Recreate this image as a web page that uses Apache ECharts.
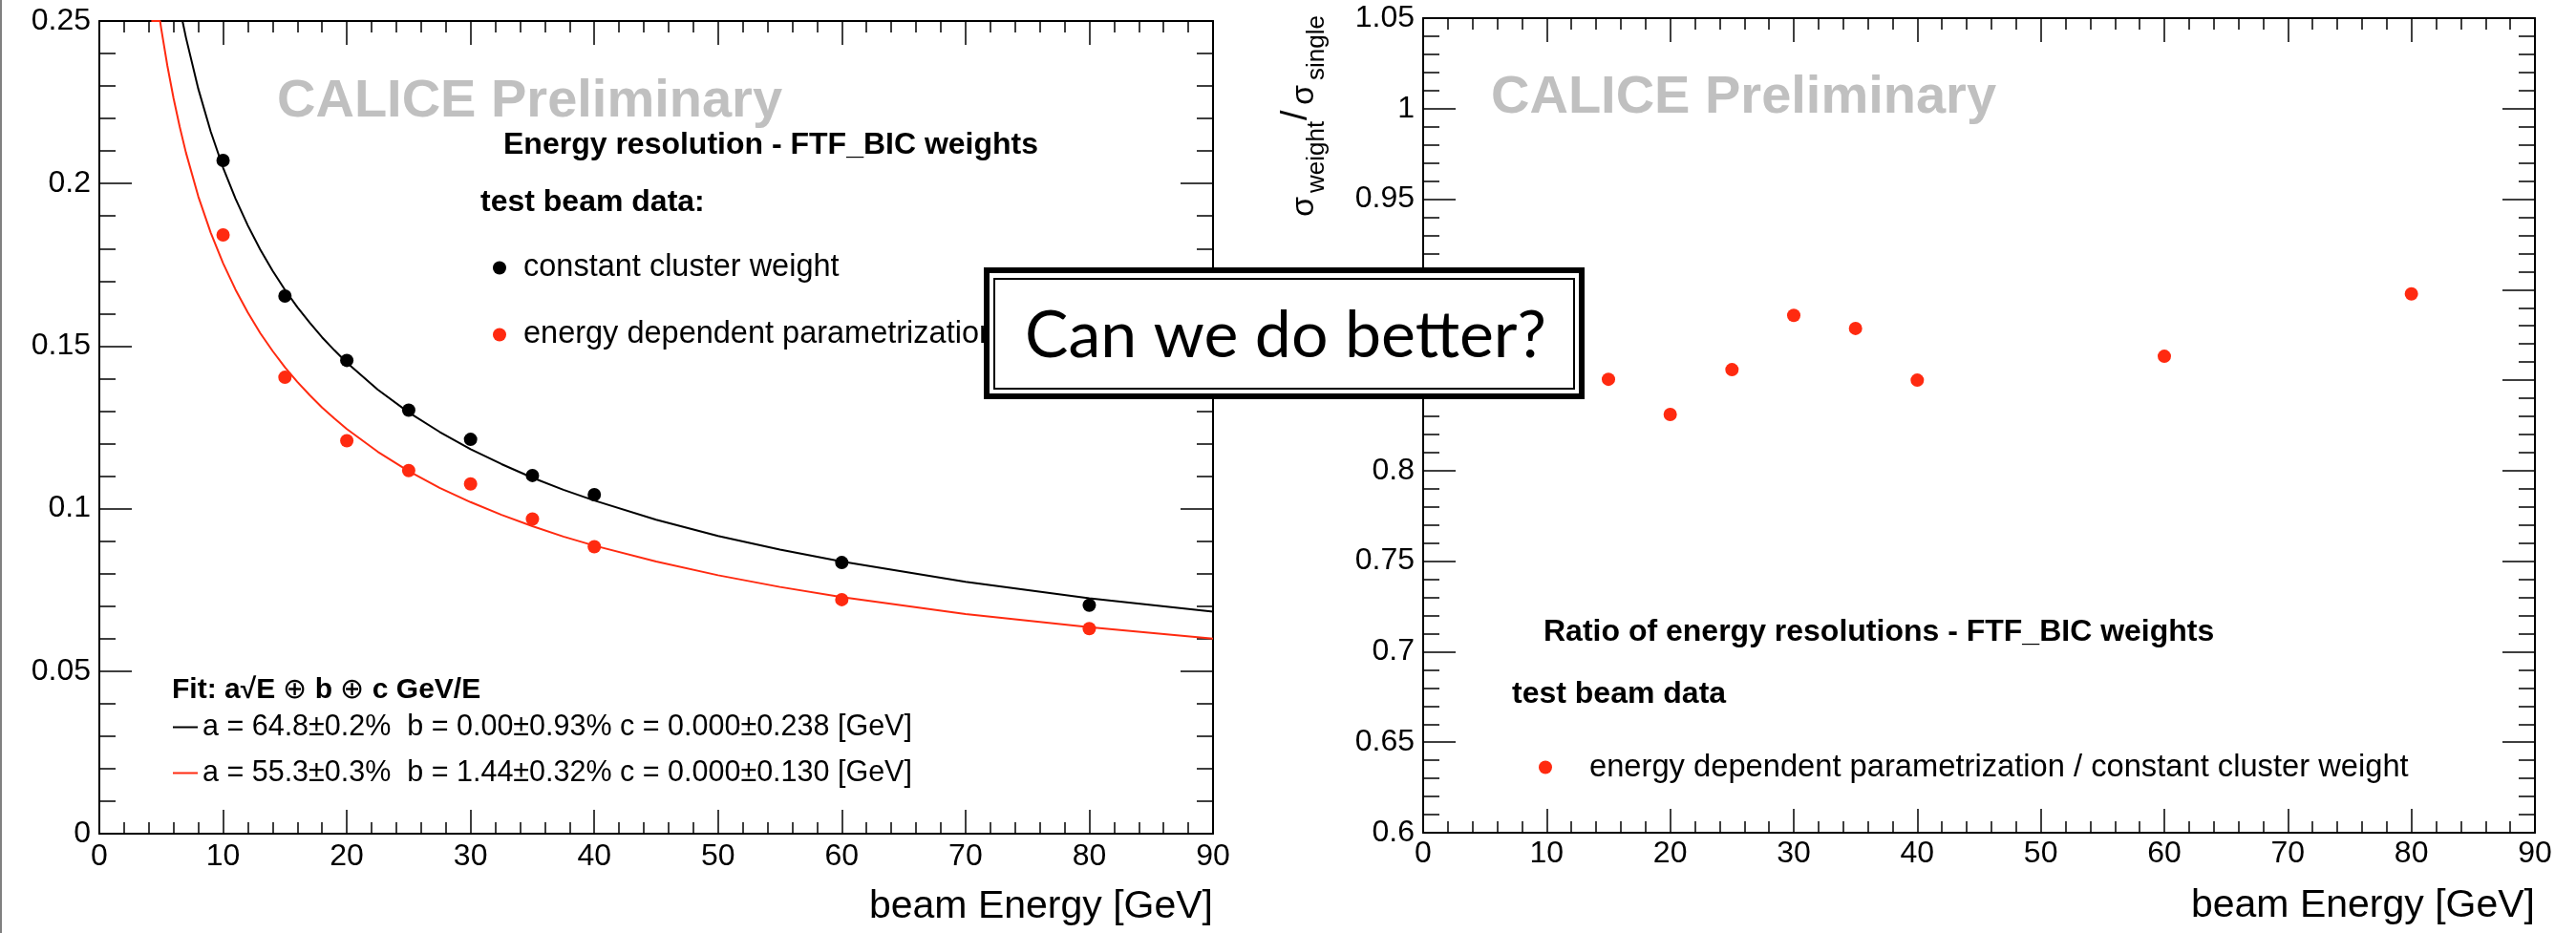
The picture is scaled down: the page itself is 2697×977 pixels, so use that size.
<!DOCTYPE html>
<html>
<head>
<meta charset="utf-8">
<script src="https://cdn.jsdelivr.net/npm/echarts@6/dist/echarts.min.js"></script>
<style>
html,body{margin:0;padding:0;background:#fff;}
#chart{width:2697px;height:977px;}
</style>
</head>
<body>
<div id="chart"></div>
<script>
// ---------------- data ----------------
const beamEnergies = [10, 15, 20, 25, 30, 35, 40, 60, 80];
const resConstantWeight = [0.2071, 0.1654, 0.1456, 0.1303, 0.1213, 0.1102, 0.1043, 0.0834, 0.0703];
const resEnergyDependent = [0.1842, 0.1404, 0.1209, 0.1117, 0.1076, 0.0968, 0.0883, 0.0720, 0.0631];

const ratioEnergies = [10, 15, 20, 25, 30, 35, 40, 60, 80];
const ratioValues = [0.889, 0.8505, 0.8311, 0.8558, 0.8858, 0.8786, 0.8500, 0.8632, 0.8977];

// fit curves, sampled off the drawn lines
const fitBlackE = [6.2, 6.72, 7, 8, 9, 10, 11, 12, 13, 14, 15, 16, 17, 18, 19, 20, 22.5, 25, 27.5, 30, 32.5, 35, 37.5, 40, 45, 50, 55, 60, 70, 80, 90];
const fitBlackRes = [0.25, 0.25, 0.2449, 0.2291, 0.2160, 0.2049, 0.1954, 0.1871, 0.1797, 0.1732, 0.1673, 0.1620, 0.1572, 0.1527, 0.1487, 0.1449, 0.1366, 0.1296, 0.1236, 0.1183, 0.1137, 0.1095, 0.1058, 0.1025, 0.0966, 0.0916, 0.0874, 0.0837, 0.0775, 0.0724, 0.0683];
const fitRedE = [4.2, 4.91, 5, 5.5, 6, 6.5, 7, 8, 9, 10, 11, 12, 13, 14, 15, 16, 17, 18, 19, 20, 22.5, 25, 27.5, 30, 32.5, 35, 37.5, 40, 45, 50, 55, 60, 70, 80, 90];
const fitRedRes = [0.25, 0.25, 0.2477, 0.2362, 0.2262, 0.2174, 0.2095, 0.1960, 0.1849, 0.1755, 0.1674, 0.1603, 0.1540, 0.1485, 0.1435, 0.1390, 0.1349, 0.1311, 0.1277, 0.1245, 0.1175, 0.1115, 0.1064, 0.1020, 0.0981, 0.0946, 0.0914, 0.0886, 0.0837, 0.0795, 0.0759, 0.0728, 0.0676, 0.0635, 0.0600];

// names / labels
const nameConstant = 'constant cluster weight';
const nameEnergyDep = 'energy dependent parametrization';
const nameRatio = 'energy dependent parametrization / constant cluster weight';
const nameFitBlack = 'a = 64.8\u00b10.2%  b = 0.00\u00b10.93% c = 0.000\u00b10.238 [GeV]';
const nameFitRed = 'a = 55.3\u00b10.3%  b = 1.44\u00b10.32% c = 0.000\u00b10.130 [GeV]';
const xTitle = 'beam Energy [GeV]';

// ---------------- chart ----------------
const FONT = "'Liberation Sans', Arial, Helvetica, sans-serif";
const RED = '#ff2a10';
const chart = echarts.init(document.getElementById('chart'), null, {renderer: 'canvas'});

function xAxisDef(grid, pos, showLabel, margin) {
  return {
    type: 'value', gridIndex: grid, position: pos, min: 0, max: 90, interval: 10,
    axisLine: {show: true, onZero: false, lineStyle: {color: '#000', width: 2}},
    axisTick: {show: true, inside: true, length: 25, lineStyle: {color: '#000', width: 1.5}},
    minorTick: {show: true, splitNumber: 5, length: 12, lineStyle: {color: '#000', width: 1.5}},
    splitLine: {show: false}, minorSplitLine: {show: false},
    axisLabel: {show: showLabel, fontSize: 32, color: '#000', fontFamily: FONT, margin: margin},
    name: showLabel ? xTitle : '',
    nameLocation: 'end', nameGap: 0,
    nameTextStyle: {fontSize: 41, color: '#000', fontFamily: FONT, align: 'right', verticalAlign: 'top', padding: [56, 0, 0, 0]}
  };
}
function yAxisDef(grid, pos, showLabel, min, max) {
  return {
    type: 'value', gridIndex: grid, position: pos, min: min, max: max, interval: 0.05,
    axisLine: {show: true, onZero: false, lineStyle: {color: '#000', width: 2}},
    axisTick: {show: true, inside: true, length: 34, lineStyle: {color: '#000', width: 1.5}},
    minorTick: {show: true, splitNumber: 5, length: 17, lineStyle: {color: '#000', width: 1.5}},
    splitLine: {show: false}, minorSplitLine: {show: false},
    axisLabel: {show: showLabel, fontSize: 32, color: '#000', fontFamily: FONT, margin: 9}
  };
}
function legendItem(name, left, top, iconW, fontSize, icon) {
  return {
    data: [{name: name, icon: icon}], orient: 'vertical', left: left, top: top, padding: 0,
    itemWidth: iconW, itemHeight: 14, selectedMode: false,
    textStyle: {fontSize: fontSize, color: '#000', fontFamily: FONT}
  };
}
const BAR_ICON = 'path://M0,0L26,0L26,2L0,2Z';

const option = {
  animation: false,
  backgroundColor: '#ffffff',
  textStyle: {fontFamily: FONT},
  grid: [
    {left: 104, top: 22, width: 1166, height: 851},
    {left: 1490, top: 19, width: 1164, height: 853}
  ],
  xAxis: [
    xAxisDef(0, 'bottom', true, 8),
    xAxisDef(0, 'top', false, 8),
    xAxisDef(1, 'bottom', true, 6),
    xAxisDef(1, 'top', false, 6)
  ],
  yAxis: [
    yAxisDef(0, 'left', true, 0, 0.25),
    yAxisDef(0, 'right', false, 0, 0.25),
    yAxisDef(1, 'left', true, 0.6, 1.05),
    yAxisDef(1, 'right', false, 0.6, 1.05)
  ],
  title: [
    {text: 'CALICE Preliminary', left: 290, top: 79, padding: 0,
      textStyle: {fontSize: 56, fontWeight: 'bold', color: '#c0c0c0', fontFamily: FONT}},
    {text: 'CALICE Preliminary', left: 1561, top: 75, padding: 0,
      textStyle: {fontSize: 56, fontWeight: 'bold', color: '#c0c0c0', fontFamily: FONT}},
    {text: 'Energy resolution - FTF_BIC weights', left: 527, top: 136, padding: 0,
      textStyle: {fontSize: 32, fontWeight: 'bold', color: '#000', fontFamily: FONT}},
    {text: 'test beam data:', left: 503, top: 196, padding: 0,
      textStyle: {fontSize: 32, fontWeight: 'bold', color: '#000', fontFamily: FONT}},
    {text: '{b|Fit: a\u221aE }{n|\u2295}{b| b }{n|\u2295}{b| c GeV/E}', left: 180, top: 708, padding: 0,
      textStyle: {fontFamily: FONT, rich: {
        b: {fontSize: 30, fontWeight: 'bold', color: '#000', fontFamily: FONT},
        n: {fontSize: 30, fontWeight: 'normal', color: '#000', fontFamily: FONT}
      }}},
    {text: 'Ratio of energy resolutions - FTF_BIC weights', left: 1616, top: 646, padding: 0,
      textStyle: {fontSize: 32, fontWeight: 'bold', color: '#000', fontFamily: FONT}},
    {text: 'test beam data', left: 1583, top: 711, padding: 0,
      textStyle: {fontSize: 32, fontWeight: 'bold', color: '#000', fontFamily: FONT}}
  ],
  legend: [
    legendItem(nameConstant, 516, 264, 40, 32.5, 'circle'),
    legendItem(nameEnergyDep, 516, 334, 40, 32.5, 'circle'),
    legendItem(nameFitBlack, 181, 746, 26, 30.5, BAR_ICON),
    legendItem(nameFitRed, 181, 794, 26, 30.5, BAR_ICON),
    legendItem(nameRatio, 1611, 787, 82, 32.7, 'circle')
  ],
  series: [
    {name: nameFitBlack, type: 'line', xAxisIndex: 0, yAxisIndex: 0, symbol: 'none', z: 2,
      lineStyle: {color: '#000', width: 2}, itemStyle: {color: '#000'},
      data: fitBlackE.map((e, i) => [e, fitBlackRes[i]])},
    {name: nameFitRed, type: 'line', xAxisIndex: 0, yAxisIndex: 0, symbol: 'none', z: 2,
      lineStyle: {color: RED, width: 2}, itemStyle: {color: RED},
      data: fitRedE.map((e, i) => [e, fitRedRes[i]])},
    {name: nameConstant, type: 'scatter', xAxisIndex: 0, yAxisIndex: 0, symbol: 'circle', symbolSize: 14, z: 3,
      itemStyle: {color: '#000', opacity: 1},
      data: beamEnergies.map((e, i) => [e, resConstantWeight[i]])},
    {name: nameEnergyDep, type: 'scatter', xAxisIndex: 0, yAxisIndex: 0, symbol: 'circle', symbolSize: 14, z: 3,
      itemStyle: {color: RED, opacity: 1},
      data: beamEnergies.map((e, i) => [e, resEnergyDependent[i]])},
    {name: nameRatio, type: 'scatter', xAxisIndex: 2, yAxisIndex: 2, symbol: 'circle', symbolSize: 14, z: 3,
      itemStyle: {color: RED, opacity: 1},
      data: ratioEnergies.map((e, i) => [e, ratioValues[i]])}
  ],
  graphic: [
    {type: 'line', z: 100, shape: {x1: 1, y1: 0, x2: 1, y2: 977}, style: {stroke: '#808080', lineWidth: 2}},
    // rotated y-axis title of the right plot
    {type: 'group', x: 1370, y: 227, rotation: Math.PI / 2, z: 100, children: [
      {type: 'text', x: 0, y: -4, z: 100, style: {text: '\u03c3', fontSize: 34, fontFamily: FONT, fill: '#000', align: 'left', verticalAlign: 'middle'}},
      {type: 'text', x: 25, y: 9, z: 100, style: {text: 'weight', fontSize: 26, fontFamily: FONT, fill: '#000', align: 'left', verticalAlign: 'middle'}},
      {type: 'text', x: 101, y: -12, z: 100, style: {text: '/', fontSize: 38, fontFamily: FONT, fill: '#000', align: 'left', verticalAlign: 'middle'}},
      {type: 'text', x: 117, y: -4, z: 100, style: {text: '\u03c3', fontSize: 34, fontFamily: FONT, fill: '#000', align: 'left', verticalAlign: 'middle'}},
      {type: 'text', x: 143, y: 9, z: 100, style: {text: 'single', fontSize: 26, fontFamily: FONT, fill: '#000', align: 'left', verticalAlign: 'middle'}}
    ]},
    // "Can we do better?" overlay
    {type: 'rect', z: 200, shape: {x: 1033, y: 283, width: 623, height: 132},
      style: {fill: '#fff', stroke: '#000', lineWidth: 6}},
    {type: 'rect', z: 201, shape: {x: 1041, y: 292, width: 607, height: 115},
      style: {fill: 'none', stroke: '#000', lineWidth: 2}},
    {type: 'text', z: 202, x: 1346, y: 352,
      style: {text: 'Can we do better?', fontSize: 68, fontFamily: "Lato, 'Open Sans', sans-serif", fill: '#000', align: 'center', verticalAlign: 'middle'}}
  ]
};
chart.setOption(option);
</script>
</body>
</html>
